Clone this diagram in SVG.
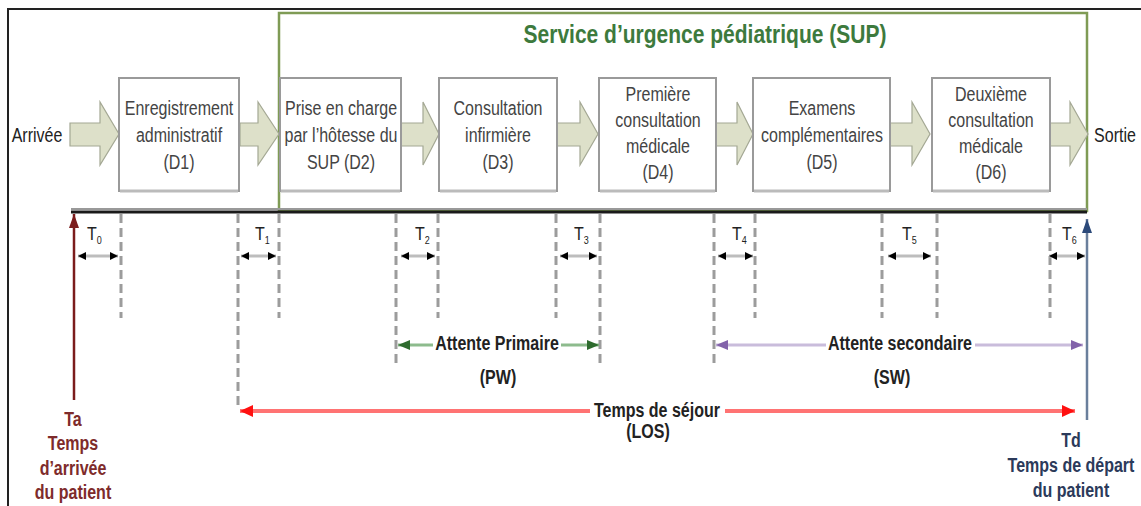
<svg xmlns="http://www.w3.org/2000/svg" width="1141" height="506" viewBox="0 0 1141 506">
<style>
text{font-family:"Liberation Sans",Arial,sans-serif}
.bx{font-size:16px;fill:#444;text-anchor:middle}
.lbl{font-size:16px;font-weight:bold;fill:#222;text-anchor:middle}
.tl{font-size:16px;fill:#222}
.sub{font-size:9px}
.box{fill:#fff;stroke:#9a9a9a;stroke-width:2}
.shd{stroke:#bbb;stroke-width:3}
.ba{fill:#dde0c9;stroke:#a4a894;stroke-width:1.2}
.dash{stroke:#9c9c9c;stroke-width:3;stroke-dasharray:9 5;fill:none}
.sm{stroke:#bdbdbd;stroke-width:3;marker-start:url(#mT);marker-end:url(#mT)}
</style>
<defs>
<marker id="mT" markerUnits="userSpaceOnUse" markerWidth="8" markerHeight="8" refX="8" refY="4" orient="auto-start-reverse"><path d="M0,0L8,4L0,8z" fill="#000"/></marker>
<marker id="mG" markerUnits="userSpaceOnUse" markerWidth="12" markerHeight="10" refX="12" refY="5" orient="auto-start-reverse"><path d="M0,0L12,5L0,10z" fill="#2e6b2e"/></marker>
<marker id="mP" markerUnits="userSpaceOnUse" markerWidth="12" markerHeight="10" refX="12" refY="5" orient="auto-start-reverse"><path d="M0,0L12,5L0,10z" fill="#8262aa"/></marker>
<marker id="mR" markerUnits="userSpaceOnUse" markerWidth="13" markerHeight="12" refX="13" refY="6" orient="auto-start-reverse"><path d="M0,0L13,6L0,12z" fill="#ff1010"/></marker>
<marker id="mBr" markerUnits="userSpaceOnUse" markerWidth="14" markerHeight="10" refX="14" refY="5" orient="auto"><path d="M0,0L14,5L0,10z" fill="#7b1c1c"/></marker>
<marker id="mBl" markerUnits="userSpaceOnUse" markerWidth="14" markerHeight="10" refX="14" refY="5" orient="auto"><path d="M0,0L14,5L0,10z" fill="#2c4a7a"/></marker>
</defs>
<rect width="1141" height="506" fill="#fff"/>
<path d="M8,506V9H1141" fill="none" stroke="#222" stroke-width="2"/>
<g id="sup">
<rect x="279" y="13" width="808" height="198" fill="none" stroke="#7f9b55" stroke-width="2.5"/>
<text transform="translate(705,43) scale(1,1.25)" font-size="21" font-weight="bold" fill="#3d7a3d" text-anchor="middle">Service d’urgence pédiatrique (SUP)</text>
</g>
<g id="connectors">
<path class="ba" d="M70,123H100V102L119,134L100,165V146H70z"/>
<path class="ba" d="M240,123H258V102L279,134L258,165V146H240z"/>
<path class="ba" d="M401,123H423V102L439,134L423,165V146H401z"/>
<path class="ba" d="M557,123H580V102L598,134L580,165V146H557z"/>
<path class="ba" d="M716,123H737V102L753,134L737,165V146H716z"/>
<path class="ba" d="M890,123H912V102L930,134L912,165V146H890z"/>
<path class="ba" d="M1050,123H1070V102L1088,134L1070,165V146H1050z"/>
</g>
<g id="arrivee"><text class="tl" transform="translate(37,142) scale(1,1.25)" text-anchor="middle">Arrivée</text></g>
<g id="sortie"><text class="tl" transform="translate(1115,142) scale(1,1.25)" text-anchor="middle">Sortie</text></g>
<g id="d1">
<rect class="box" x="119" y="78" width="120" height="113"/><line class="shd" x1="120" y1="191" x2="238" y2="191"/>
<text class="bx" transform="translate(179,115) scale(1,1.25)"><tspan x="0">Enregistrement</tspan><tspan x="0" dy="21.6">administratif</tspan><tspan x="0" dy="21.6">(D1)</tspan></text>
</g>
<g id="d2">
<rect class="box" x="280" y="78" width="121" height="113"/><line class="shd" x1="281" y1="191" x2="400" y2="191"/>
<text class="bx" transform="translate(341,115) scale(1,1.25)"><tspan x="0">Prise en charge</tspan><tspan x="0" dy="21.6">par l’hôtesse du</tspan><tspan x="0" dy="21.6">SUP (D2)</tspan></text>
</g>
<g id="d3">
<rect class="box" x="439" y="78" width="118" height="113"/><line class="shd" x1="440" y1="191" x2="556" y2="191"/>
<text class="bx" transform="translate(498,115) scale(1,1.25)"><tspan x="0">Consultation</tspan><tspan x="0" dy="21.6">infirmière</tspan><tspan x="0" dy="21.6">(D3)</tspan></text>
</g>
<g id="d4">
<rect class="box" x="599" y="78" width="117" height="113"/><line class="shd" x1="600" y1="191" x2="715" y2="191"/>
<text class="bx" transform="translate(658,101) scale(1,1.25)"><tspan x="0">Première</tspan><tspan x="0" dy="20.8">consultation</tspan><tspan x="0" dy="20.8">médicale</tspan><tspan x="0" dy="20.8">(D4)</tspan></text>
</g>
<g id="d5">
<rect class="box" x="753" y="78" width="137" height="113"/><line class="shd" x1="754" y1="191" x2="889" y2="191"/>
<text class="bx" transform="translate(822,115) scale(1,1.25)"><tspan x="0">Examens</tspan><tspan x="0" dy="21.6">complémentaires</tspan><tspan x="0" dy="21.6">(D5)</tspan></text>
</g>
<g id="d6">
<rect class="box" x="932" y="78" width="118" height="113"/><line class="shd" x1="933" y1="191" x2="1049" y2="191"/>
<text class="bx" transform="translate(991,101) scale(1,1.25)"><tspan x="0">Deuxième</tspan><tspan x="0" dy="20.8">consultation</tspan><tspan x="0" dy="20.8">médicale</tspan><tspan x="0" dy="20.8">(D6)</tspan></text>
</g>
<g id="timeline">
<line x1="71" y1="209" x2="1087" y2="209" stroke="#999" stroke-width="2"/>
<line x1="71" y1="212" x2="1087" y2="212" stroke="#1a1a1a" stroke-width="3"/>
<path class="dash" d="M121,214V318M238,214V408M279,214V318M396,214V365M438,214V318M556,214V318M600,214V365M714,214V365M755,214V318M882,214V318M937,214V318M1050,214V318"/>
<line class="sm" x1="78" y1="256" x2="118" y2="256"/>
<line class="sm" x1="241" y1="256" x2="276" y2="256"/>
<line class="sm" x1="401" y1="256" x2="435" y2="256"/>
<line class="sm" x1="560" y1="256" x2="597" y2="256"/>
<line class="sm" x1="718" y1="256" x2="753" y2="256"/>
<line class="sm" x1="888" y1="256" x2="931" y2="256"/>
<line class="sm" x1="1049" y1="256" x2="1085" y2="256"/>
<text class="tl" transform="translate(87,240) scale(1,1.2)">T<tspan class="sub" dy="3">0</tspan></text>
<text class="tl" transform="translate(255,240) scale(1,1.2)">T<tspan class="sub" dy="3">1</tspan></text>
<text class="tl" transform="translate(415,240) scale(1,1.2)">T<tspan class="sub" dy="3">2</tspan></text>
<text class="tl" transform="translate(574,240) scale(1,1.2)">T<tspan class="sub" dy="3">3</tspan></text>
<text class="tl" transform="translate(732,240) scale(1,1.2)">T<tspan class="sub" dy="3">4</tspan></text>
<text class="tl" transform="translate(902,240) scale(1,1.2)">T<tspan class="sub" dy="3">5</tspan></text>
<text class="tl" transform="translate(1062,240) scale(1,1.2)">T<tspan class="sub" dy="3">6</tspan></text>
</g>
<g id="ta">
<line x1="74" y1="400" x2="74" y2="214" stroke="#7b1c1c" stroke-width="2.5" marker-end="url(#mBr)"/>
<text transform="translate(73,426) scale(1,1.25)" font-size="16" font-weight="bold" fill="#7e2b2b" text-anchor="middle"><tspan x="0">Ta</tspan><tspan x="0" dy="19.6">Temps</tspan><tspan x="0" dy="19.6">d’arrivée</tspan><tspan x="0" dy="19.6">du patient</tspan></text>
</g>
<g id="td">
<line x1="1087" y1="420" x2="1087" y2="219" stroke="#6a7f9c" stroke-width="2.5" marker-end="url(#mBl)"/>
<text transform="translate(1071,447) scale(1,1.25)" font-size="16" font-weight="bold" fill="#2b3a5a" text-anchor="middle"><tspan x="0">Td</tspan><tspan x="0" dy="20">Temps de départ</tspan><tspan x="0" dy="20">du patient</tspan></text>
</g>
<g id="pw">
<line x1="398" y1="345" x2="599" y2="345" stroke="#8dbb8d" stroke-width="3" marker-start="url(#mG)" marker-end="url(#mG)"/>
<rect x="433" y="333" width="128" height="22" fill="#fff"/>
<text class="lbl" transform="translate(497,350) scale(1,1.25)">Attente Primaire</text>
<text class="lbl" transform="translate(498,384) scale(1,1.25)">(PW)</text>
</g>
<g id="sw">
<line x1="716" y1="345" x2="1083" y2="345" stroke="#c9bcdb" stroke-width="3" marker-start="url(#mP)" marker-end="url(#mP)"/>
<rect x="826" y="333" width="149" height="22" fill="#fff"/>
<text class="lbl" transform="translate(900,350) scale(1,1.25)">Attente secondaire</text>
<text class="lbl" transform="translate(892,384) scale(1,1.25)">(SW)</text>
</g>
<g id="los">
<line x1="240" y1="411" x2="1075" y2="411" stroke="#ff7373" stroke-width="4" marker-start="url(#mR)" marker-end="url(#mR)"/>
<rect x="590" y="399" width="135" height="24" fill="#fff"/>
<text class="lbl" transform="translate(657,417) scale(1,1.25)">Temps de séjour</text>
<text class="lbl" transform="translate(648,438) scale(1,1.25)">(LOS)</text>
</g>
</svg>
